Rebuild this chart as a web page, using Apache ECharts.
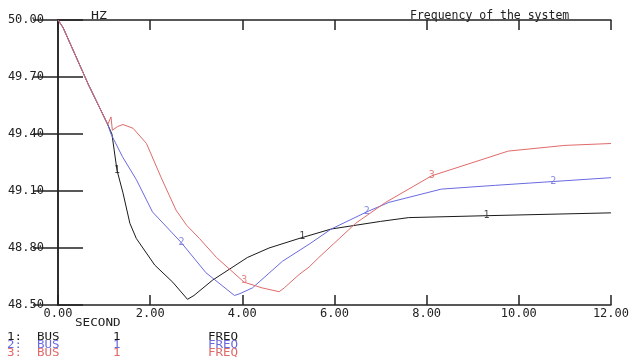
<!DOCTYPE html>
<html>
<head>
<meta charset="utf-8">
<script src="https://cdn.jsdelivr.net/npm/echarts@6/dist/echarts.min.js"></script>
<style>
  html, body { margin: 0; padding: 0; background: #fff; }
  #chart { width: 632px; height: 361px; }
</style>
</head>
<body>
<div id="chart"></div>
<script>
// time axis (seconds) and frequency ticks
const xTicks = [0, 2, 4, 6, 8, 10, 12]
const yTicks = [48.5, 48.8, 49.1, 49.4, 49.7, 50.0]

// curve 1 (black)
const time1 = [0, 0.11, 0.33, 0.66, 1.06, 1.17, 1.28, 1.41, 1.56, 1.70, 2.10, 2.49, 2.81, 2.95, 3.35, 4.11, 4.58, 5.23, 5.93, 7.0, 7.61, 9.30, 12]
const freq1 = [50, 49.96, 49.84, 49.66, 49.46, 49.40, 49.21, 49.09, 48.93, 48.85, 48.71, 48.62, 48.53, 48.55, 48.63, 48.75, 48.80, 48.85, 48.90, 48.94, 48.96, 48.97, 48.985]

// curve 2 (blue)
const time2 = [0, 0.11, 0.33, 0.66, 1.08, 1.15, 1.40, 1.70, 2.05, 2.67, 3.21, 3.83, 3.95, 4.22, 4.87, 5.45, 5.93, 6.70, 7.18, 8.32, 9.50, 10.75, 12]
const freq2 = [50, 49.96, 49.84, 49.66, 49.45, 49.40, 49.28, 49.16, 48.99, 48.83, 48.67, 48.55, 48.56, 48.59, 48.73, 48.82, 48.90, 48.99, 49.04, 49.11, 49.13, 49.15, 49.17]

// curve 3 (red)
const time3 = [0, 0.11, 0.33, 0.66, 1.08, 1.15, 1.18, 1.30, 1.41, 1.63, 1.92, 2.24, 2.56, 2.79, 3.07, 3.44, 4.04, 4.43, 4.80, 4.91, 5.23, 5.45, 5.66, 6.46, 7.11, 8.11, 9.77, 11.0, 12]
const freq3 = [50, 49.96, 49.84, 49.66, 49.45, 49.49, 49.42, 49.44, 49.45, 49.43, 49.35, 49.17, 49.00, 48.92, 48.85, 48.75, 48.62, 48.59, 48.57, 48.59, 48.66, 48.70, 48.75, 48.93, 49.04, 49.18, 49.31, 49.34, 49.35]

// curve number labels
const marks1 = [[1.28, 49.21], [5.30, 48.86], [9.30, 48.97]]
const marks2 = [[2.68, 48.83], [6.70, 48.99], [10.75, 49.15]]
const marks3 = [[4.04, 48.63], [8.11, 49.18]]

const colors = ['#1a1a1a', '#6a6ae0', '#e06a6a']
const legendRows = ['1:', '2:', '3:']

function zip(a, b) {
    return a.map((v, i) => [v, b[i]])
}

const font = '"DejaVu Sans Mono", monospace'
const axisColor = '#222'

const myChart = echarts.init(document.getElementById('chart'))

const lineSeries = [[time1, freq1], [time2, freq2], [time3, freq3]].map((d, i) => ({
    type: 'line',
    data: zip(d[0], d[1]),
    showSymbol: false,
    symbol: 'none',
    lineStyle: { color: colors[i], width: 1 },
    z: 2 + i
}))

const markSeries = [marks1, marks2, marks3].map((m, i) => ({
    type: 'scatter',
    data: m,
    symbolSize: 0,
    label: {
        show: true,
        position: 'inside',
        formatter: String(i + 1),
        color: colors[i],
        fontFamily: font,
        fontSize: 10
    },
    z: 6
}))

const legendGraphics = []
legendRows.forEach((r, i) => {
    const y = 337 + i * 8
    const parts = [[7, r], [37, 'BUS'], [113, '1'], [208, 'FREQ']]
    parts.forEach(p => {
        legendGraphics.push({
            type: 'text',
            x: p[0],
            y: y,
            scaleX: 1.25,
            style: {
                text: p[1],
                fill: colors[i],
                font: '10px ' + font,
                verticalAlign: 'middle'
            }
        })
    })
})

const option = {
    animation: false,
    backgroundColor: '#fff',
    grid: { left: 58, right: 19, top: 20, bottom: 56 },
    xAxis: [
        {
            type: 'value',
            min: xTicks[0],
            max: xTicks[xTicks.length - 1],
            interval: 2,
            position: 'bottom',
            axisLine: { lineStyle: { color: axisColor, width: 1.5 } },
            axisTick: { inside: true, length: 10, lineStyle: { color: axisColor, width: 1.5 } },
            axisLabel: {
                formatter: v => v.toFixed(2),
                color: '#222',
                fontFamily: font,
                fontSize: 12,
                margin: 3,
                showMaxLabel: true
            },
            splitLine: { show: false }
        },
        {
            type: 'value',
            min: xTicks[0],
            max: xTicks[xTicks.length - 1],
            interval: 2,
            position: 'top',
            axisLine: { lineStyle: { color: axisColor, width: 1.5 } },
            axisTick: { inside: true, length: 10, lineStyle: { color: axisColor, width: 1.5 } },
            axisLabel: { show: false },
            splitLine: { show: false }
        }
    ],
    yAxis: [
        {
            type: 'value',
            min: yTicks[0],
            max: yTicks[yTicks.length - 1],
            interval: 0.3,
            position: 'left',
            axisLine: { show: true, lineStyle: { color: axisColor, width: 1.5 } },
            axisTick: { show: true, inside: true, length: 25, lineStyle: { color: axisColor, width: 1.5 } },
            axisLabel: {
                formatter: v => v.toFixed(2),
                color: '#222',
                fontFamily: font,
                fontSize: 12,
                margin: 14,
                padding: [0, 0, 5, 0]
            },
            splitLine: { show: false }
        },
        {
            type: 'value',
            min: yTicks[0],
            max: yTicks[yTicks.length - 1],
            interval: 0.3,
            position: 'right',
            axisLine: { show: true, lineStyle: { color: axisColor, width: 1.5 } },
            axisTick: { show: true, inside: true, length: 25, lineStyle: { color: axisColor, width: 1.5 } },
            axisLabel: { show: false },
            splitLine: { show: false }
        }
    ],
    graphic: [
        {
            type: 'text', x: 91, y: 16, scaleX: 1.2,
            style: { text: 'HZ', fill: '#222', font: '11px ' + font, verticalAlign: 'middle' }
        },
        {
            type: 'text', x: 410, y: 16,
            style: { text: 'Frequency of the system', fill: '#222', font: '11.5px ' + font, verticalAlign: 'middle' }
        },
        {
            type: 'text', x: 75, y: 323, scaleX: 1.15,
            style: { text: 'SECOND', fill: '#222', font: '11px ' + font, verticalAlign: 'middle' }
        }
    ].concat(legendGraphics),
    series: lineSeries.concat(markSeries)
}

myChart.setOption(option)

window.addEventListener('resize', function () {
    myChart.resize()
})
</script>
</body>
</html>
